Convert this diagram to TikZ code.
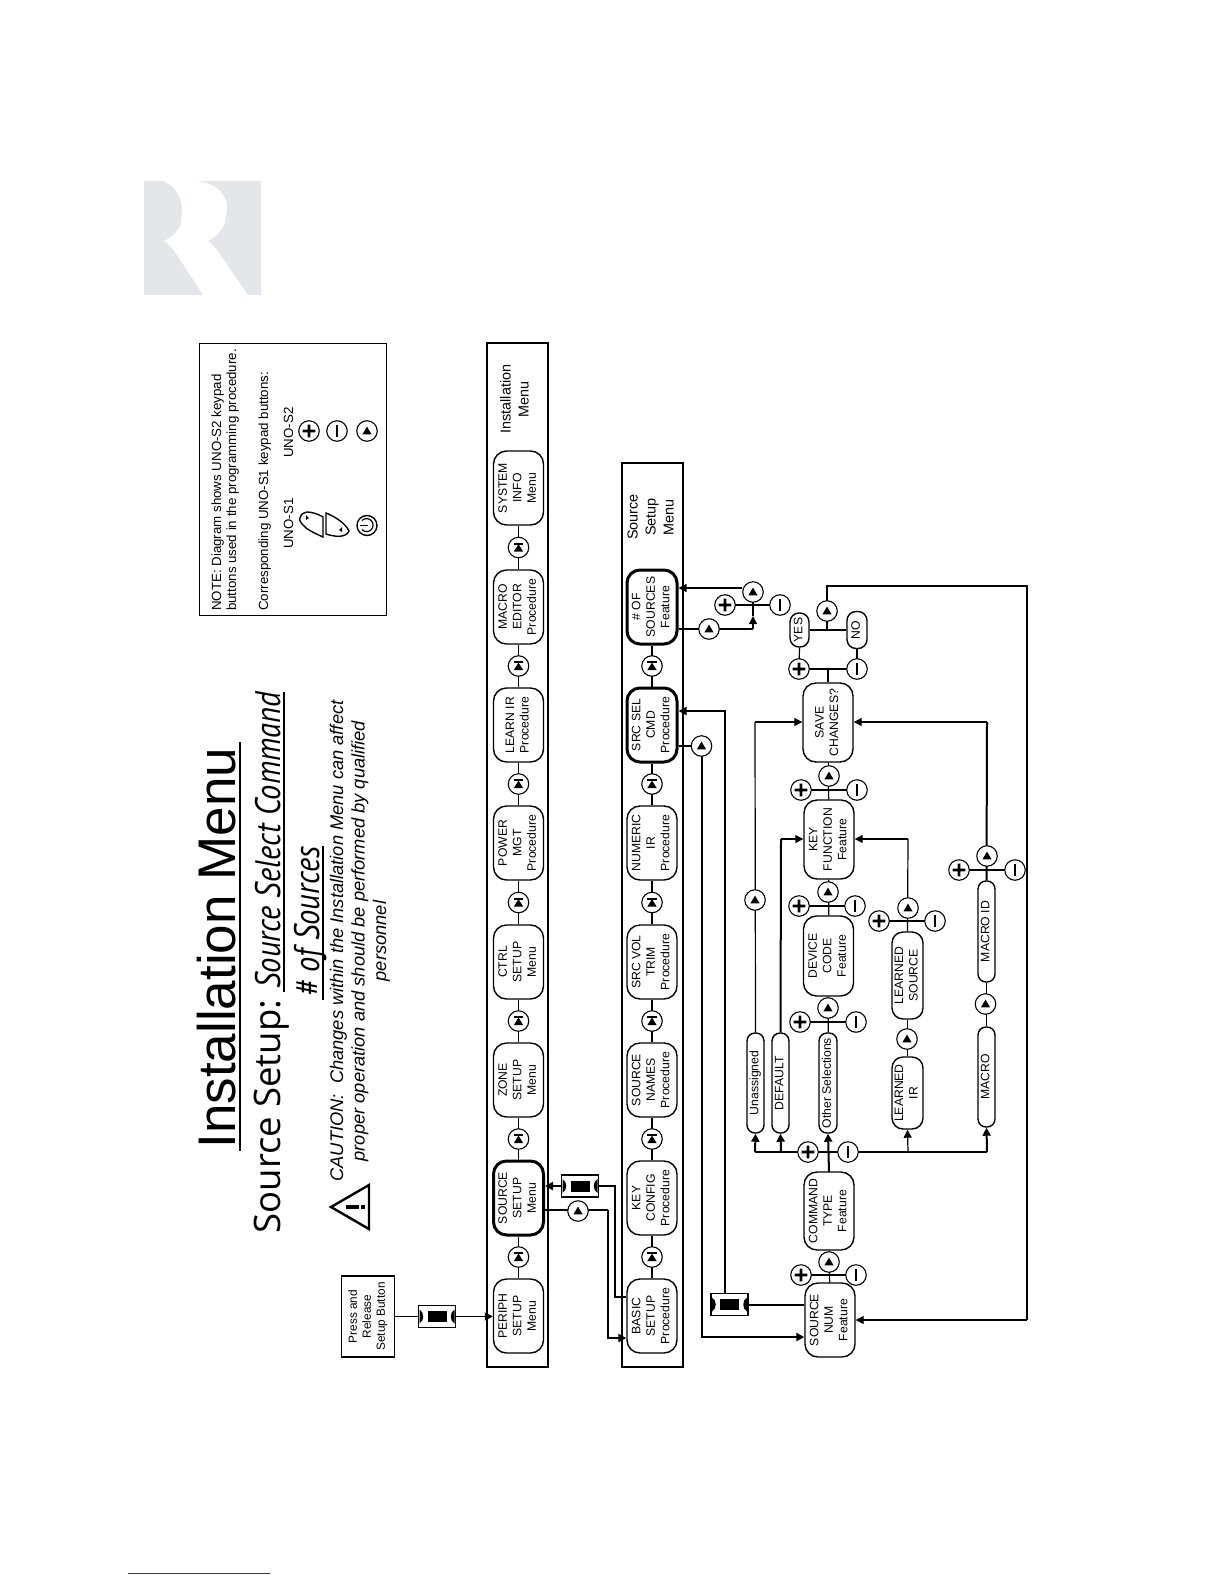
\documentclass[tikz,border=0pt]{standalone}
\usepackage{fontspec}
\usepackage{graphicx}
\setmainfont{Liberation Sans}
\newfontfamily\ttlfont{Open Sans}
\newfontfamily\subitfont[FakeStretch=0.86]{PT Sans}
\usetikzlibrary{arrows.meta,calc}
\definecolor{logogray}{RGB}{229,230,233}
\definecolor{linkblue}{RGB}{40,50,150}
\newcommand\rt[1]{\rotatebox{90}{\begin{tabular}{@{}c@{}}#1\end{tabular}}}
\tikzset{
  fb/.style={draw,line width=1.4pt,rounded corners=13pt,inner sep=0pt,fill=white,font=\fontsize{12.2}{14.5}\selectfont,minimum width=50pt,minimum height=74pt},
  hot/.style={line width=3pt},
  pill/.style={draw,line width=1.4pt,rounded corners=8pt,inner sep=0pt,fill=white,font=\fontsize{12.2}{14.5}\selectfont},
  plain/.style={draw,line width=1.1pt,inner sep=0pt,fill=white},
  cir/.style={circle,draw,line width=1.1pt,fill=white,minimum size=20.5pt,inner sep=0pt},
  wire/.style={line width=1.2pt},
  bold/.style={line width=2pt},
  tip/.style={-{Triangle[length=8pt,width=8pt]}},
}
\newcommand\bT[2]{\node[cir](#1) at (#2){};\fill[shift={(#1.center)}] (-4.6,3.4)--(4.6,3.4)--(0,-4.4)--cycle;}
\newcommand\bS[2]{\node[cir](#1) at (#2){};\fill[shift={(#1.center)}] (-4.6,4)--(4.6,4)--(0,-3.4)--cycle;\fill[shift={(#1.center)}] (-4.6,-4.6) rectangle (4.6,-3);}
\newcommand\bP[2]{\node[cir](#1) at (#2){};\fill[shift={(#1.center)}] (-6.4,-1.3) rectangle (6.4,1.3) (-1.3,-6.4) rectangle (1.3,6.4);}
\newcommand\bM[2]{\node[cir](#1) at (#2){};\fill[shift={(#1.center)}] (-1.3,-6.4) rectangle (1.3,6.4);}
\newcommand\bB[2]{\node[plain,minimum width=37pt,minimum height=22pt](#1) at (#2){};
  \fill[shift={(#1.center)}] (-9.5,-5.5) rectangle (9.5,5.5);
  \fill[shift={(#1.center)}] (-17.5,-7) .. controls (-12.5,-4) and (-12.5,4) .. (-17.5,7) -- cycle;
  \fill[shift={(#1.center)}] (17.5,-7) .. controls (12.5,-4) and (12.5,4) .. (17.5,7) -- cycle;}
\begin{document}
\begin{tikzpicture}[x=1pt,y=-1pt]
\useasboundingbox (0,0) rectangle (1224,1584);
% logo
\fill[logogray] (144,181) -- (163,181) .. controls (174,186) and (182,196) .. (182,209) .. controls (182,217) and (181,223) .. (180,227) .. controls (176,233) and (170,238) .. (164,241) .. controls (168,244) and (172,248) .. (175,252) -- (203,295) -- (144,295) -- cycle;
\fill[logogray] (194,181) -- (261,181) -- (261,295) -- (248,295) -- (222,257) .. controls (218,250) and (213,245) .. (208,241) .. controls (215,238) and (221,232) .. (224,225) .. controls (226,219) and (227,212) .. (227,205) .. controls (226,198) and (223,193) .. (218,189) .. controls (212,184) and (203,181) .. (194,181) -- cycle;
% titles
\node[rotate=90,anchor=base west,font=\fontsize{53}{60}\selectfont] (tmain) at (235,1152) {Installation Menu};
\draw[line width=2.2pt] (240,742) -- (240,1151);
\node[rotate=90,anchor=base west,font=\ttlfont\fontsize{36.5}{40}\selectfont] (tsub) at (280,1237) {Source Setup:};
\node[rotate=90,anchor=base west,font=\subitfont\itshape\fontsize{35.5}{40}\selectfont] (tsel) at (280,992) {Source Select Command};
\draw[line width=1.6pt] (284,692) -- (284,992);
\node[rotate=90,anchor=base west,font=\subitfont\itshape\fontsize{35.5}{40}\selectfont] (tnum) at (319,1000) {\# of Sources};
\draw[line width=1.6pt] (323,846) -- (323,1000);
% caution
\draw[line width=2.4pt,line join=miter] (331,1207) -- (369,1185) -- (369,1229) -- cycle;
\fill (346,1205) rectangle (359,1208.5);
\fill (361,1205) rectangle (365,1208.5);
\node[rotate=90,anchor=center,align=center,font=\itshape\fontsize{18.3}{21.5}\selectfont] (caut) at (360,941) {CAUTION:\ \ Changes within the Installation Menu can affect\\proper operation and should be performed by qualified\\personnel};
% note
\node[plain,minimum width=187pt,minimum height=272pt,line width=1pt] (note) at (292.5,479) {};
\begin{scope}[every node/.style={rotate=90,anchor=base west,font=\fontsize{13.3}{15}\selectfont,inner sep=0pt}]
\node (n1) at (221,611) {NOTE: Diagram shows UNO-S2 keypad};
\node (n2) at (236,611) {buttons used in the programming procedure.};
\node (n3) at (268,611) {Corresponding UNO-S1 keypad buttons:};
\node (n4) at (293,549) {UNO-S1};
\node (n5) at (293,458) {UNO-S2};
\end{scope}
\bP{kp}{309,431}\bM{km}{337,431}\bT{kt}{367,431}
\draw[line width=1.4pt] (323,517) -- (323,537) .. controls (314,533) and (306,529) .. (303,525) .. controls (300,522) and (299,519) .. (300,518) .. controls (301,514) and (304,512) .. (307,512) .. controls (312,512) and (318,514) .. (323,517) -- cycle;
\fill (306,515) -- (309,518) -- (306,520) -- cycle;
\draw[line width=1.4pt] (326,513) -- (326,534) .. controls (335,537) and (346,538) .. (349,531) .. controls (346,524) and (336,517) .. (326,513) -- cycle;
\fill (339,530) -- (342,527) -- (342,532) -- cycle;
\node[circle,draw,line width=1.4pt,minimum size=20pt,inner sep=0pt] (kpow) at (367,525.5) {};
\draw[line width=1.2pt] (362,520.5) arc[start angle=-135,end angle=135,radius=6.5];
\draw[line width=1.2pt] (360,525.5) -- (368,525.5);
% panels
\node[draw,line width=2pt,minimum width=61pt,minimum height=1024pt,inner sep=0pt] (pi) at (517.5,855) {};
\node[draw,line width=1.5pt,minimum width=61pt,minimum height=904pt,inner sep=0pt] (ps) at (652.5,915) {};
\node[font=\fontsize{14.4}{18}\selectfont] (lab1) at (516,399) {\rt{Installation\\Menu}};
\node[font=\fontsize{14.4}{18}\selectfont] (lab2) at (652,517) {\rt{Source\\Setup\\Menu}};
% install row
\node[fb] (i1) at (518.5,1316) {\rt{PERIPH\\SETUP\\Menu}};
\node[fb,hot] (i2) at (518.5,1198) {\rt{SOURCE\\SETUP\\Menu}};
\node[fb] (i3) at (518.5,1080) {\rt{ZONE\\SETUP\\Menu}};
\node[fb] (i4) at (518.5,962) {\rt{CTRL\\SETUP\\Menu}};
\node[fb] (i5) at (518.5,843) {\rt{POWER\\MGT\\Procedure}};
\node[fb] (i6) at (518.5,725) {\rt{LEARN IR\\Procedure}};
\node[fb] (i7) at (518.5,607) {\rt{MACRO\\EDITOR\\Procedure}};
\node[fb] (i8) at (518.5,488) {\rt{SYSTEM\\INFO\\Menu}};
% source row
\node[fb] (s1) at (652,1316) {\rt{BASIC\\SETUP\\Procedure}};
\node[fb] (s2) at (652,1198) {\rt{KEY\\CONFIG\\Procedure}};
\node[fb] (s3) at (652,1080) {\rt{SOURCE\\NAMES\\Procedure}};
\node[fb] (s4) at (652,962) {\rt{SRC VOL\\TRIM\\Procedure}};
\node[fb] (s5) at (652,843) {\rt{NUMERIC\\IR\\Procedure}};
\node[fb,hot] (s6) at (652,725) {\rt{SRC SEL\\CMD\\Procedure}};
\node[fb,hot] (s7) at (652,607) {\rt{\# OF\\SOURCES\\Feature}};
\foreach \a/\b/\y/\k in {1/2/1257/a,2/3/1139/b,3/4/1021/c,4/5/902.5/d,5/6/784/e,6/7/666/f,7/8/547.5/g}{
  \draw[wire] (i\a) -- (i\b);
  \bS{ci\k}{518.5,\y}
}
\foreach \a/\b/\y/\k in {1/2/1257/a,2/3/1139/b,3/4/1021/c,4/5/902.5/d,5/6/784/e,6/7/666/f}{
  \draw[wire] (s\a) -- (s\b);
  \bS{cs\k}{652,\y}
}
% lower nodes
\node[fb,minimum height=74pt] (num) at (830,1320) {\rt{SOURCE\\NUM\\Feature}};
\node[fb,minimum height=78pt] (cmd) at (829,1211) {\rt{COMMAND\\TYPE\\Feature}};
\node[fb,minimum height=80pt] (dev) at (828.5,956) {\rt{DEVICE\\CODE\\Feature}};
\node[fb,minimum height=79pt] (key) at (829,839.5) {\rt{KEY\\FUNCTION\\Feature}};
\node[fb,minimum height=79pt] (save) at (828,722.5) {\rt{SAVE\\CHANGES?}};
\node[pill,minimum width=17pt,minimum height=100pt] (una) at (755.5,1083) {\rt{Unassigned}};
\node[pill,minimum width=17pt,minimum height=100pt] (def) at (780.5,1083) {\rt{DEFAULT}};
\node[pill,minimum width=18pt,minimum height=100pt] (oth) at (828,1083) {\rt{Other Selections}};
\node[pill,rounded corners=11pt,minimum width=31pt,minimum height=72pt] (lir) at (907.5,1093) {\rt{LEARNED\\IR}};
\node[pill,rounded corners=11pt,minimum width=31pt,minimum height=87pt] (lsrc) at (907.5,975.5) {\rt{LEARNED\\SOURCE}};
\node[pill,minimum width=17pt,minimum height=100pt] (mac) at (986.5,1077) {\rt{MACRO}};
\node[pill,minimum width=17pt,minimum height=101pt] (mid) at (986.5,931.5) {\rt{MACRO ID}};
\node[pill,minimum width=19pt,minimum height=34pt,rounded corners=9pt] (yes) at (799.5,630) {\rt{YES}};
\node[pill,minimum width=20pt,minimum height=37pt,rounded corners=9pt] (no) at (857,630) {\rt{NO}};
\node[plain,minimum width=53pt,minimum height=81pt] (press) at (368,1316.5) {};
\node[font=\fontsize{11.8}{14}\selectfont] (presst) at (368,1316.5) {\rt{Press and\\Release\\Setup Button}};
% coordinates
\coordinate (k1) at (615,1297);
\coordinate (k2) at (608,1338);
\coordinate (k3) at (702,1337);
\coordinate (k4) at (725,711);
\coordinate (k5) at (755,722);
\coordinate (k6) at (781,839);
\coordinate (k7) at (908,839);
\coordinate (k8) at (987,722);
\coordinate (k9) at (827,586);
\coordinate (k10) at (1027,586);
\coordinate (k11) at (1027,1320);
\coordinate (k12) at (753,629);
\coordinate (k13) at (753,616);
\coordinate (k14) at (755,1152);
\coordinate (k15) at (781,1152);
\coordinate (k16) at (908,1152);
\coordinate (k17) at (987,1152);
\coordinate (k19) at (827,630);
\coordinate (k20) at (828,669);
% connectors
\draw[wire] (press.east) -- (452,1316.5);
\bB{b1}{437,1316.5}
\draw[wire,tip] (b1.east) -- (i1.west|-b1.east);
\bB{b2}{580,1186}
\draw[bold,tip] (b2.west) -- (i2.east|-b2.west);
\draw[bold] (b2.east) -| (k1) -- (s1.west|-k1);
\draw[wire] (i2.east|-578,1210) -- (608,1210);
\draw[bold,tip] (608,1210) -- (k2) -- (s1.west|-k2);
\bT{c2}{578,1211}
\draw[wire] (s6.east|-0,746) -- (702,746);
\draw[bold,tip] (702,746) -- (k3) -- (num.west|-k3);
\bT{c6}{701.5,746}
\bB{b3}{729.5,1304.5}
\draw[bold] (b3.east) -- (num.west|-b3.east);
\draw[bold,tip] (725,1293.5) -- (k4) -- (s6.east|-k4);
% source num / command
\draw[wire] (num) -- (cmd);
\draw[wire] (801,1275) -- (856,1275);
\bT{c7}{829,1262}\bP{p7}{801,1275}\bM{m7}{856,1275}
% command branches
\draw[bold] (k14) -- (k17);
\draw[bold,tip] (cmd.north|-0,1172) -- (oth.south);
\bP{p8}{808,1152}\bM{m8}{848,1152}
\draw[bold,tip] (k14) -- (una.south);
\draw[bold,tip] (k15) -- (def.south);
\draw[wire,tip] (k16) -- (lir.south);
\draw[bold,tip] (k17) -- (mac.south);
% other -> device -> key -> save
\draw[wire] (oth) -- (dev);
\draw[bold] (800,1022) -- (856,1022);
\bT{c8}{828,1008}\bP{p9}{800,1022}\bM{m9}{856,1022}
\draw[wire] (dev) -- (key);
\draw[wire] (799,906) -- (855,906);
\bT{c9}{828,892}\bP{p10}{799,906}\bM{m10}{855,906}
\draw[wire] (key) -- (save);
\draw[bold] (801,790) -- (857,790);
\bT{c10}{829,776}\bP{p11}{801,790}\bM{m11}{857,790}
% unassigned, default
\draw[wire] (una.north) -- (k5);
\draw[wire,tip] (k5) -- (save.west|-k5);
\bT{c11}{755,900}
\draw[bold] (def.north) -- (k6);
\draw[wire,tip] (k6) -- (key.west|-k6);
% learned
\draw[wire] (lir) -- (lsrc);
\bT{c12}{907,1039}
\draw[wire] (lsrc.north) -- (k7);
\draw[wire,tip] (k7) -- (key.east|-k7);
\draw[wire] (879,921) -- (935,921);
\bT{c13}{908,908}\bP{p14}{879,921}\bM{m14}{935,921}
% macro
\draw[wire] (mac) -- (mid);
\bT{c14}{985.5,1004}
\draw[bold] (mid.north) -- (k8);
\draw[wire,tip] (k8) -- (save.east|-k8);
\draw[bold] (959,870) -- (1015,870);
\bT{c15}{987,856}\bP{p16}{959,870}\bM{m16}{1015,870}
% save -> yes / no
\draw[bold] (799,669) -- (857,669);
\draw[wire] (save.north) -- (k20);
\draw[wire] (799,669) -- (yes.south);
\draw[wire] (857,669) -- (no.south);
\bP{p17}{799,669}\bM{m17}{857,669}
\draw[wire] (yes.east) -- (no.west);
\draw[wire] (k19) -- (k9) -- (k10) -- (k11);
\draw[wire,tip] (k11) -- (num.east|-k11);
\bT{c17}{827,611}
% # of sources
\draw[bold] (s7.east|-k12) -- (k12);
\draw[wire,tip] (k12) -- (k13);
\draw[wire] (k13) -- (753,592);
\draw[wire] (725,605) -- (780,605);
\bT{c18}{709,629}
\bT{c19}{753,592}\bP{p20}{725,605}\bM{m20}{780,605}
\draw[wire,tip] (c19.west|-0,588) -- (s7.east|-0,588);
% footer rule
\draw[linkblue,line width=1pt] (128,1573) -- (270,1573);
\end{tikzpicture}
\end{document}
